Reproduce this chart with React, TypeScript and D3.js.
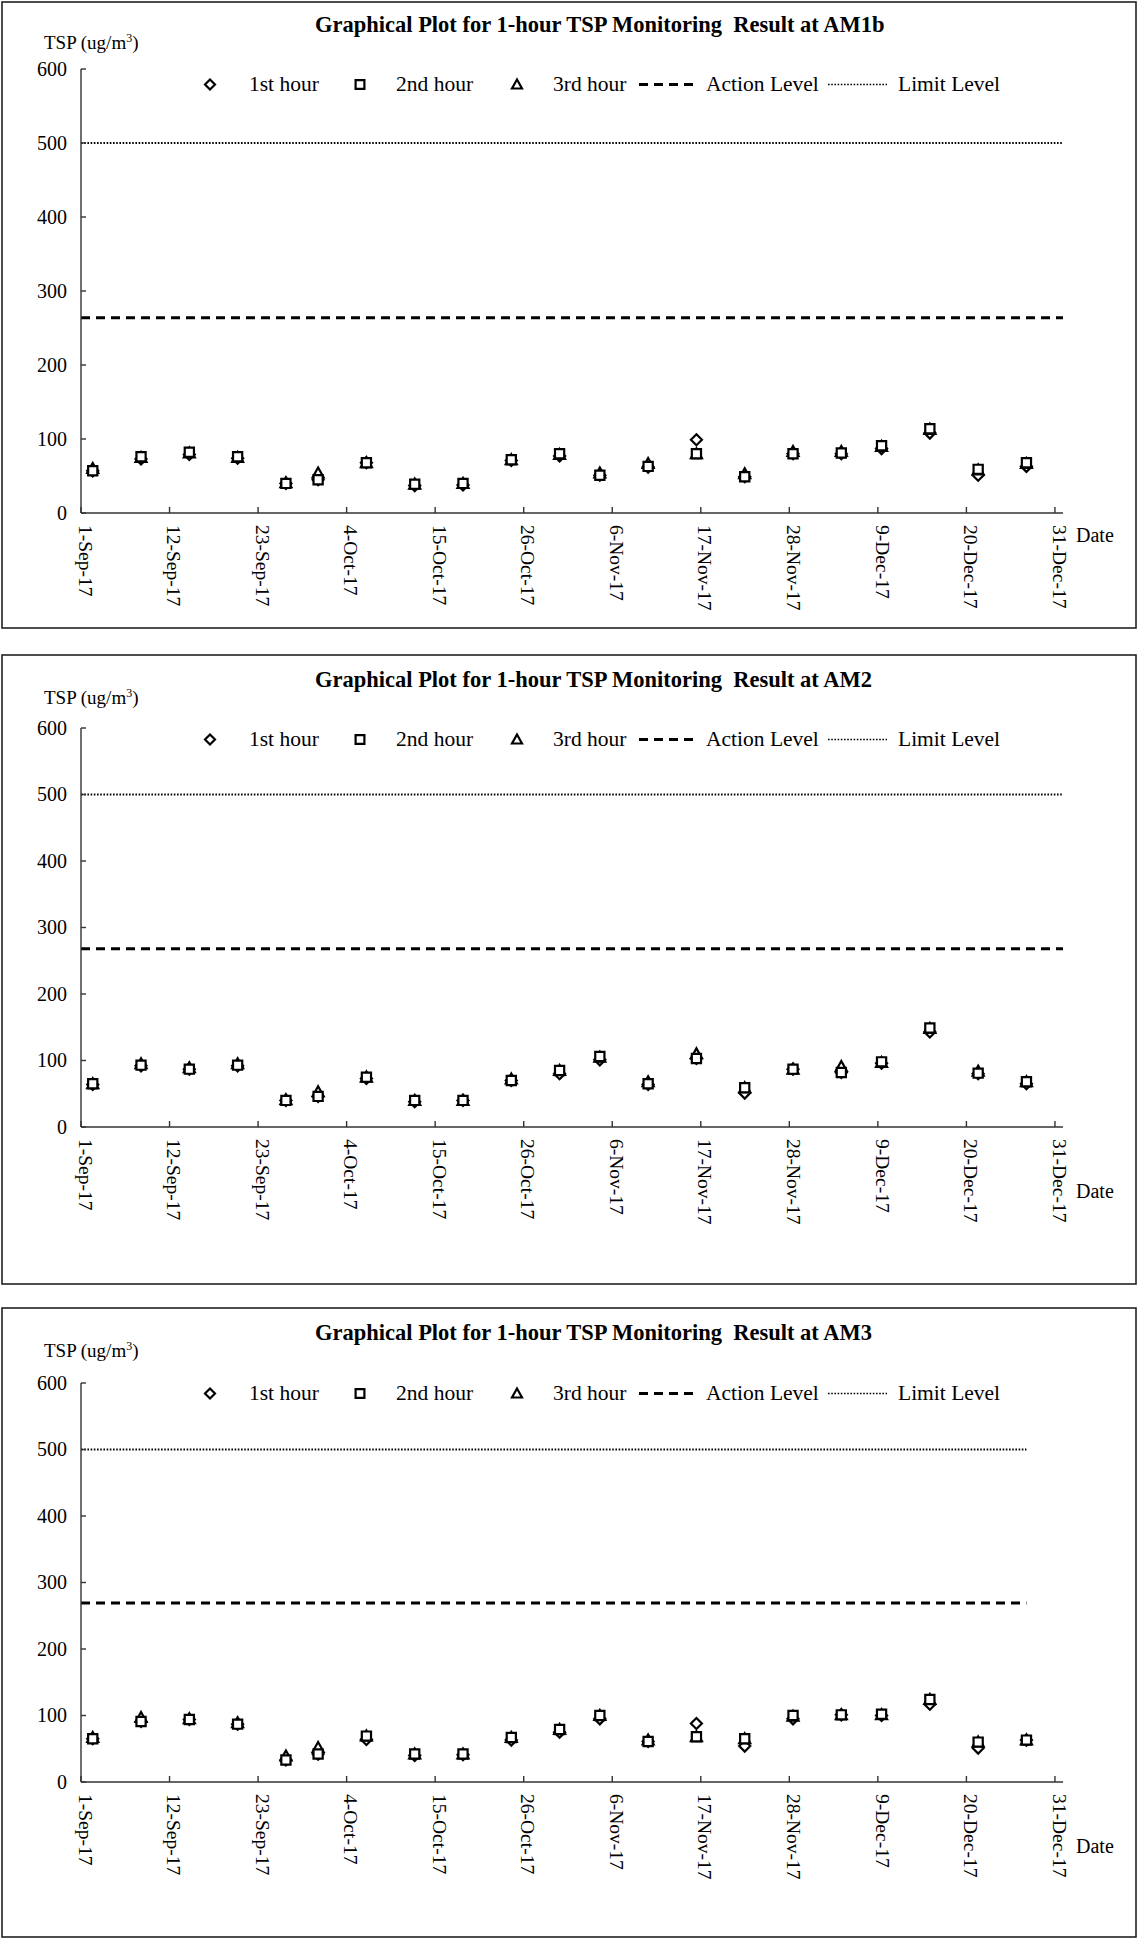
import React from "react";
import * as d3 from "d3";

// ---------- DATA ----------
const stations = ["AM1b", "AM2", "AM3"];

const sampleDates = [
  "2017-09-02 11:00", "2017-09-08 11:00", "2017-09-14 11:00", "2017-09-20 11:00",
  "2017-09-26 11:00", "2017-09-30 11:00", "2017-10-06 11:00", "2017-10-12 11:00",
  "2017-10-18 11:00", "2017-10-24 11:00", "2017-10-30 11:00", "2017-11-04 11:00",
  "2017-11-10 11:00", "2017-11-16 11:00", "2017-11-22 11:00", "2017-11-28 11:00",
  "2017-12-04 11:00", "2017-12-09 11:00", "2017-12-15 11:00", "2017-12-21 11:00",
  "2017-12-27 11:00",
];

const xTickDates = [
  "2017-09-01 00:00", "2017-09-12 00:00", "2017-09-23 00:00", "2017-10-04 00:00",
  "2017-10-15 00:00", "2017-10-26 00:00", "2017-11-06 00:00", "2017-11-17 00:00",
  "2017-11-28 00:00", "2017-12-09 00:00", "2017-12-20 00:00", "2017-12-31 00:00",
];
const xAxisStart = "2017-09-01 00:00";
const xAxisEnd = "2018-01-01 00:00";
const yTicks = [0, 100, 200, 300, 400, 500, 600];

// AM1b
const am1bHour1 = [57, 73, 79, 74, 40, 45, 68, 37, 38, 71, 77, 51, 62, 99, 49, 80, 80, 87, 108, 51, 63];
const am1bHour2 = [57, 76, 82, 76, 40, 45, 68, 39, 40, 72, 80, 51, 63, 80, 49, 80, 81, 91, 114, 59, 68];
const am1bHour3 = [60, 75, 81, 75, 41, 54, 68, 39, 40, 72, 79, 54, 67, 80, 53, 83, 83, 90, 113, 58, 67];
// AM2
const am2Hour1 = [64, 92, 87, 92, 40, 46, 73, 38, 40, 70, 80, 101, 64, 103, 51, 87, 82, 96, 143, 80, 65];
const am2Hour2 = [65, 93, 87, 93, 40, 46, 75, 40, 40, 70, 85, 106, 65, 103, 59, 87, 82, 98, 149, 81, 68];
const am2Hour3 = [65, 95, 89, 95, 41, 53, 75, 40, 40, 72, 85, 105, 68, 110, 59, 87, 91, 97, 148, 84, 68];
// AM3
const am3Hour1 = [65, 91, 94, 87, 33, 42, 64, 40, 41, 63, 75, 95, 61, 88, 54, 95, 101, 100, 117, 51, 63];
const am3Hour2 = [65, 91, 94, 87, 33, 42, 69, 42, 42, 67, 79, 100, 61, 68, 65, 100, 101, 102, 124, 60, 63];
const am3Hour3 = [67, 97, 95, 89, 39, 52, 69, 42, 42, 67, 79, 100, 63, 68, 65, 99, 101, 101, 124, 60, 63];

const hour1Series = [am1bHour1, am2Hour1, am3Hour1];
const hour2Series = [am1bHour2, am2Hour2, am3Hour2];
const hour3Series = [am1bHour3, am2Hour3, am3Hour3];

const actionLevels = [264, 268, 269];
const limitLevel = 500;
const levelLineEnds = ["2018-01-01 00:00", "2018-01-01 00:00", "2017-12-27 11:00"];

const legendLabels = ["1st hour", "2nd hour", "3rd hour", "Action Level", "Limit Level"];

// ---------- LAYOUT ----------
const W = 1139;
const H = 1939;
const FONT = "'Liberation Serif', 'Times New Roman', serif";
const X0 = 81;
const X1 = 1063;

const panels = [
  { top: 2, bottom: 628, titleY: 32, tspY: 49, legendY: 91, y600: 69, y0: 513, dateY: 542 },
  { top: 655, bottom: 1284, titleY: 687, tspY: 704, legendY: 746, y600: 728, y0: 1127, dateY: 1198 },
  { top: 1308, bottom: 1937, titleY: 1340, tspY: 1357, legendY: 1400, y600: 1383, y0: 1782, dateY: 1853 },
];

const parse = d3.timeParse("%Y-%m-%d %H:%M");
const fmt = d3.timeFormat("%-d-%b-%y");

function diamondPath(x: number, y: number, r = 5.5) {
  return `M${x},${y - r}L${x + r},${y}L${x},${y + r}L${x - r},${y}Z`;
}
function trianglePath(x: number, y: number, r = 5.5) {
  return `M${x},${y - r}L${x + r},${y + r * 0.8}L${x - r},${y + r * 0.8}Z`;
}
function squarePath(x: number, y: number, r = 4.6) {
  return `M${x - r},${y - r}H${x + r}V${y + r}H${x - r}Z`;
}

const markerStyle = { fill: "#fff", stroke: "#000", strokeWidth: 2.2 };

function Panel({ i }: { i: number }) {
  const p = panels[i];
  const x = d3.scaleTime().domain([parse(xAxisStart)!, parse(xAxisEnd)!]).range([X0, X1]);
  const y = d3.scaleLinear().domain([0, 600]).range([p.y0, p.y600]);
  const dts = sampleDates.map((d) => parse(d)!);
  const lineEnd = x(parse(levelLineEnds[i])!);
  const ly = p.legendY - 6.5;

  return (
    <g>
      <rect x={2} y={p.top} width={1134} height={p.bottom - p.top} fill="#fff" stroke="#222" strokeWidth={1.6} />
      <text x={315} y={p.titleY} fontFamily={FONT} fontWeight="bold" fontSize={22.5} fill="#000">
        {`Graphical Plot for 1-hour TSP Monitoring\u00a0 Result at ${stations[i]}`}
      </text>
      <text x={44} y={p.tspY} fontFamily={FONT} fontSize={19} fill="#000">
        TSP (ug/m
        <tspan dy={-7} fontSize={12}>3</tspan>
        <tspan dy={7}>)</tspan>
      </text>

      {/* limit & action level lines */}
      <line x1={X0} x2={lineEnd} y1={y(limitLevel)} y2={y(limitLevel)} stroke="#000" strokeWidth={1.8} strokeDasharray="1.6,1.6" />
      <line x1={X0} x2={lineEnd} y1={y(actionLevels[i])} y2={y(actionLevels[i])} stroke="#000" strokeWidth={3} strokeDasharray="9,6" />

      {/* y axis */}
      <line x1={X0} x2={X0} y1={y(600)} y2={y(0)} stroke="#333" strokeWidth={1.4} />
      {yTicks.map((t) => (
        <g key={t}>
          <line x1={X0} x2={X0 + 5} y1={y(t)} y2={y(t)} stroke="#333" strokeWidth={1.4} />
          <text x={67} y={y(t)} dy="0.33em" textAnchor="end" fontFamily={FONT} fontSize={20} fill="#000">
            {t}
          </text>
        </g>
      ))}
      {/* x axis */}
      <line x1={X0} x2={X1} y1={y(0)} y2={y(0)} stroke="#333" strokeWidth={1.4} />
      {xTickDates.map((t) => {
        const tx = x(parse(t)!);
        return (
          <g key={t}>
            <line x1={tx} x2={tx} y1={y(0)} y2={y(0) - 6} stroke="#333" strokeWidth={1.4} />
            <text
              transform={`translate(${tx},${y(0) + 12}) rotate(90)`}
              dy="0.12em"
              textAnchor="start"
              fontFamily={FONT}
              fontSize={19.5}
              fill="#000"
            >
              {fmt(parse(t)!)}
            </text>
          </g>
        );
      })}
      <text x={1076} y={p.dateY} fontFamily={FONT} fontSize={20} fill="#000">Date</text>

      {/* data markers */}
      {dts.map((d, k) => (
        <path key={`d${k}`} d={diamondPath(x(d), y(hour1Series[i][k]))} {...markerStyle} />
      ))}
      {dts.map((d, k) => (
        <path key={`t${k}`} d={trianglePath(x(d), y(hour3Series[i][k]))} {...markerStyle} />
      ))}
      {dts.map((d, k) => (
        <path key={`s${k}`} d={squarePath(x(d), y(hour2Series[i][k]))} {...markerStyle} />
      ))}

      {/* legend */}
      <path d={diamondPath(210, ly, 5)} {...markerStyle} />
      <text x={249} y={p.legendY} fontFamily={FONT} fontSize={21.5}>{legendLabels[0]}</text>
      <path d={squarePath(360, ly, 4.4)} {...markerStyle} />
      <text x={396} y={p.legendY} fontFamily={FONT} fontSize={21.5}>{legendLabels[1]}</text>
      <path d={trianglePath(517, ly, 5)} {...markerStyle} />
      <text x={553} y={p.legendY} fontFamily={FONT} fontSize={21.5}>{legendLabels[2]}</text>
      <line x1={639} x2={695} y1={ly} y2={ly} stroke="#000" strokeWidth={3} strokeDasharray="9,6" />
      <text x={706} y={p.legendY} fontFamily={FONT} fontSize={21.5}>{legendLabels[3]}</text>
      <line x1={828} x2={887} y1={ly} y2={ly} stroke="#000" strokeWidth={1.6} strokeDasharray="1.6,1.6" />
      <text x={898} y={p.legendY} fontFamily={FONT} fontSize={21.5}>{legendLabels[4]}</text>
    </g>
  );
}

export default function App() {
  return (
    <div style={{ position: "absolute", left: 0, top: 0 }}>
      <svg width={W} height={H} viewBox={`0 0 ${W} ${H}`} style={{ display: "block", background: "#fff" }}>
        <rect x={0} y={0} width={W} height={H} fill="#fff" />
        {[0, 1, 2].map((i) => (
          <Panel key={i} i={i} />
        ))}
      </svg>
    </div>
  );
}
